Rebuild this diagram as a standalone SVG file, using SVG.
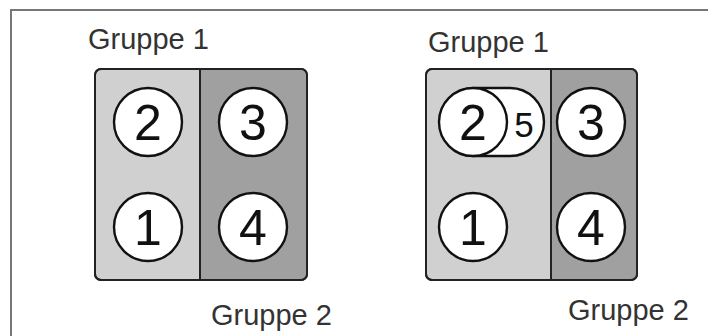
<svg xmlns="http://www.w3.org/2000/svg" width="708" height="336" viewBox="0 0 708 336">
<style>
.lbl{font-family:"Liberation Sans",Arial,sans-serif;font-size:29px;fill:#333}
.num{font-family:"Liberation Sans",Arial,sans-serif;font-size:50px;fill:#111;text-anchor:middle}
.num5{font-family:"Liberation Sans",Arial,sans-serif;font-size:35px;fill:#111;text-anchor:middle}
.box{stroke:#222;stroke-width:2}
.c{fill:#fff;stroke:#111;stroke-width:2.4}
</style>
<rect width="708" height="336" fill="#fff"/>
<path d="M11,336 V10 H708" fill="none" stroke="#777" stroke-width="2"/>
<g id="left">
  <rect x="95" y="69" width="212" height="211" rx="6" fill="#d0d0d0" class="box"/>
  <path d="M200,70 H301 Q306,70 306,75 V274 Q306,279 301,279 H200 Z" fill="#a0a0a0"/>
  <rect x="95" y="69" width="212" height="211" rx="6" fill="none" class="box"/>
  <line x1="200" y1="69" x2="200" y2="280" class="box"/>
  <g id="l2"><circle cx="148" cy="122" r="34" class="c"/><text x="148" y="140" class="num">2</text></g>
  <g id="l3"><circle cx="253" cy="122" r="34" class="c"/><text x="253" y="140" class="num">3</text></g>
  <g id="l1"><circle cx="148" cy="227" r="34" class="c"/><text x="148" y="245" class="num">1</text></g>
  <g id="l4"><circle cx="253" cy="227" r="34" class="c"/><text x="253" y="245" class="num">4</text></g>
  <text x="88" y="49" class="lbl">Gruppe 1</text>
  <text x="211" y="325" class="lbl">Gruppe 2</text>
</g>
<g id="right">
  <rect x="426" y="69" width="211" height="211" rx="6" fill="#d0d0d0" class="box"/>
  <path d="M551,70 H631 Q636,70 636,75 V274 Q636,279 631,279 H551 Z" fill="#a0a0a0"/>
  <rect x="426" y="69" width="211" height="211" rx="6" fill="none" class="box"/>
  <line x1="551" y1="69" x2="551" y2="280" class="box"/>
  <g id="r5"><rect x="440" y="88" width="104" height="68" rx="34" class="c"/><text x="524" y="137" class="num5">5</text></g>
  <g id="r2"><circle cx="473" cy="122" r="34" class="c"/><text x="473" y="140" class="num">2</text></g>
  <g id="r3"><circle cx="591" cy="122" r="34" class="c"/><text x="591" y="140" class="num">3</text></g>
  <g id="r1"><circle cx="473" cy="227" r="34" class="c"/><text x="473" y="245" class="num">1</text></g>
  <g id="r4"><circle cx="591" cy="227" r="34" class="c"/><text x="591" y="245" class="num">4</text></g>
  <text x="428" y="52" class="lbl">Gruppe 1</text>
  <text x="568" y="320" class="lbl">Gruppe 2</text>
</g>
</svg>
